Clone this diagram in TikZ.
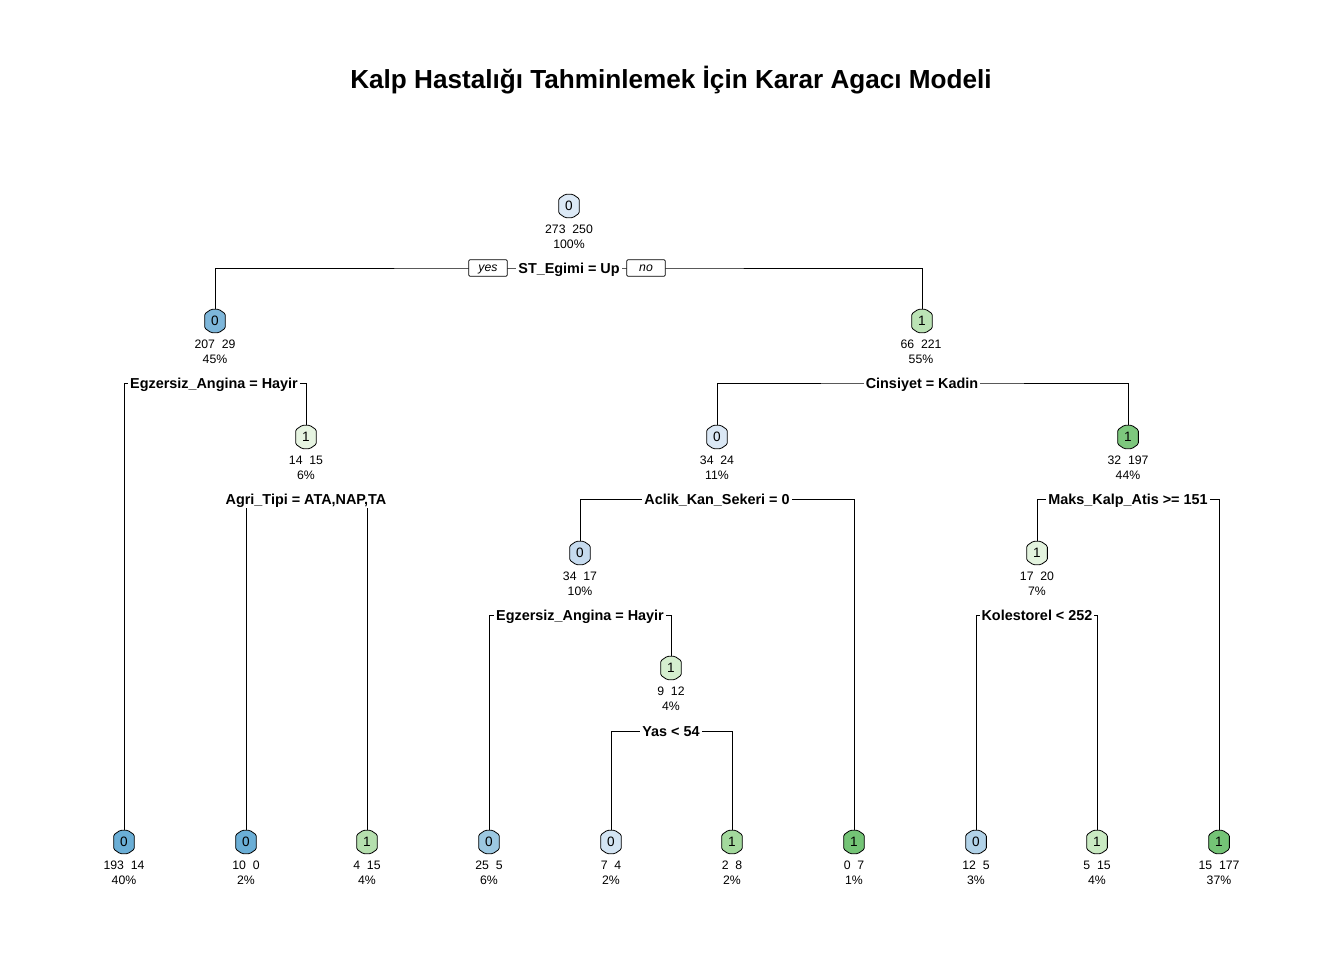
\documentclass[tikz,border=0pt]{standalone}
\usepackage{fontspec}
\setmainfont{Liberation Sans}
\usetikzlibrary{shapes.misc,backgrounds}
\definecolor{cR}{HTML}{DCE9F6}
\definecolor{cA}{HTML}{7DB6DA}
\definecolor{cB}{HTML}{BBE3B5}
\definecolor{cC}{HTML}{E6F4E1}
\definecolor{cD}{HTML}{DBE8F5}
\definecolor{cE}{HTML}{7DC77D}
\definecolor{cF}{HTML}{C6DBEF}
\definecolor{cG}{HTML}{E3F3DE}
\definecolor{cH}{HTML}{D5EECF}
\definecolor{lA}{HTML}{6AAED6}
\definecolor{lB}{HTML}{B5DFAE}
\definecolor{lC}{HTML}{9CC8E1}
\definecolor{lD}{HTML}{D3E4F3}
\definecolor{lE}{HTML}{A3D99D}
\definecolor{lF}{HTML}{74C476}
\definecolor{lG}{HTML}{B1D2E8}
\definecolor{lH}{HTML}{C9EAC2}
\tikzset{
  cbox/.style={chamfered rectangle, chamfered rectangle angle=55, chamfered rectangle xsep=2pt,
     draw=black, line width=0.6pt, rounded corners=1pt, fill=#1, inner sep=0pt,
     minimum width=15.5pt, minimum height=17.5pt, font=\fontsize{10.2}{12}\selectfont},
  cnt/.style={align=center, inner sep=0pt, font=\fontsize{9.2}{11.2}\selectfont},
  split/.style={fill=white, inner xsep=1.5pt, inner ysep=3pt, text height=7.7pt, text depth=0pt,
     font=\fontsize{10.8}{12}\selectfont\bfseries},
  yn/.style={draw=black, line width=0.6pt, rounded corners=1pt, fill=white, minimum width=29pt,
     minimum height=12.5pt, inner sep=0pt, text height=4.8pt, text depth=0pt,
     font=\fontsize{9.2}{11}\selectfont\itshape},
  edge/.style={draw=black, line width=0.6pt}
}
\begin{document}
\begin{tikzpicture}[x=0.75pt,y=-0.75pt]
\useasboundingbox (0,0) rectangle (1344,960);
\node[font=\fontsize{19.6}{22}\selectfont\bfseries] (title) at (671,80) {Kalp Hastalığı Tahminlemek İçin Karar Agacı Modeli};
% internal nodes
\node[cbox=cR] (n1) at (569,206) {0};
\node[cnt] (c1) at (569,236.5) {273\ \ 250\\100\%};
\node[split] (s1) at (569,268) {ST\_Egimi = Up};
\node[yn] (yes) at (488,268) {yes};
\node[yn] (no) at (646,268) {no};
\node[cbox=cA] (n2) at (215,321) {0};
\node[cnt] (c2) at (215,352) {207\ \ 29\\45\%};
\node[split] (s2) at (214,383) {Egzersiz\_Angina = Hayir};
\node[cbox=cB] (n3) at (922,321) {1};
\node[cnt] (c3) at (921,352) {66\ \ 221\\55\%};
\node[split] (s3) at (922,383) {Cinsiyet = Kadin};
\node[cbox=cC] (n5) at (306,437) {1};
\node[cnt] (c5) at (306,467.5) {14\ \ 15\\6\%};
\node[split] (s5) at (306,499) {Agri\_Tipi = ATA,NAP,TA};
\node[cbox=cD] (n6) at (717,437) {0};
\node[cnt] (c6) at (717,467.5) {34\ \ 24\\11\%};
\node[split] (s6) at (717,499) {Aclik\_Kan\_Sekeri = 0};
\node[cbox=cE] (n7) at (1128,437) {1};
\node[cnt] (c7) at (1128,467.5) {32\ \ 197\\44\%};
\node[split] (s7) at (1128,499) {Maks\_Kalp\_Atis >= 151};
\node[cbox=cF] (n12) at (580,553) {0};
\node[cnt] (c12) at (580,583.5) {34\ \ 17\\10\%};
\node[split] (s12) at (580,615) {Egzersiz\_Angina = Hayir};
\node[cbox=cG] (n14) at (1037,553) {1};
\node[cnt] (c14) at (1037,583.5) {17\ \ 20\\7\%};
\node[split] (s14) at (1037,615) {Kolestorel < 252};
\node[cbox=cH] (n25) at (671,668) {1};
\node[cnt] (c25) at (671,699) {9\ \ 12\\4\%};
\node[split] (s25) at (671,731) {Yas < 54};
% leaves
\node[cbox=lA] (L1) at (124,842) {0};
\node[cnt] (d1) at (124,872.5) {193\ \ 14\\40\%};
\node[cbox=lA] (L2) at (246,842) {0};
\node[cnt] (d2) at (246,872.5) {10\ \ 0\\2\%};
\node[cbox=lB] (L3) at (367,842) {1};
\node[cnt] (d3) at (367,872.5) {4\ \ 15\\4\%};
\node[cbox=lC] (L4) at (489,842) {0};
\node[cnt] (d4) at (489,872.5) {25\ \ 5\\6\%};
\node[cbox=lD] (L5) at (611,842) {0};
\node[cnt] (d5) at (611,872.5) {7\ \ 4\\2\%};
\node[cbox=lE] (L6) at (732,842) {1};
\node[cnt] (d6) at (732,872.5) {2\ \ 8\\2\%};
\node[cbox=lF] (L7) at (854,842) {1};
\node[cnt] (d7) at (854,872.5) {0\ \ 7\\1\%};
\node[cbox=lG] (L8) at (976,842) {0};
\node[cnt] (d8) at (976,872.5) {12\ \ 5\\3\%};
\node[cbox=lH] (L9) at (1097,842) {1};
\node[cnt] (d9) at (1097,872.5) {5\ \ 15\\4\%};
\node[cbox=lF] (L10) at (1219,842) {1};
\node[cnt] (d10) at (1219,872.5) {15\ \ 177\\37\%};
% connectors
\begin{scope}[on background layer]
\draw[edge] (n2.north) |- (s1.center) -| (n3.north);
\draw[edge] (L1.north) |- (s2.center) -| (n5.north);
\draw[edge] (n6.north) |- (s3.center) -| (n7.north);
\draw[edge] (L2.north) |- (s5.center) -| (L3.north);
\draw[edge] (n12.north) |- (s6.center) -| (L7.north);
\draw[edge] (n14.north) |- (s7.center) -| (L10.north);
\draw[edge] (L4.north) |- (s12.center) -| (n25.north);
\draw[edge] (L8.north) |- (s14.center) -| (L9.north);
\draw[edge] (L5.north) |- (s25.center) -| (L6.north);
\end{scope}
\end{tikzpicture}
\end{document}
